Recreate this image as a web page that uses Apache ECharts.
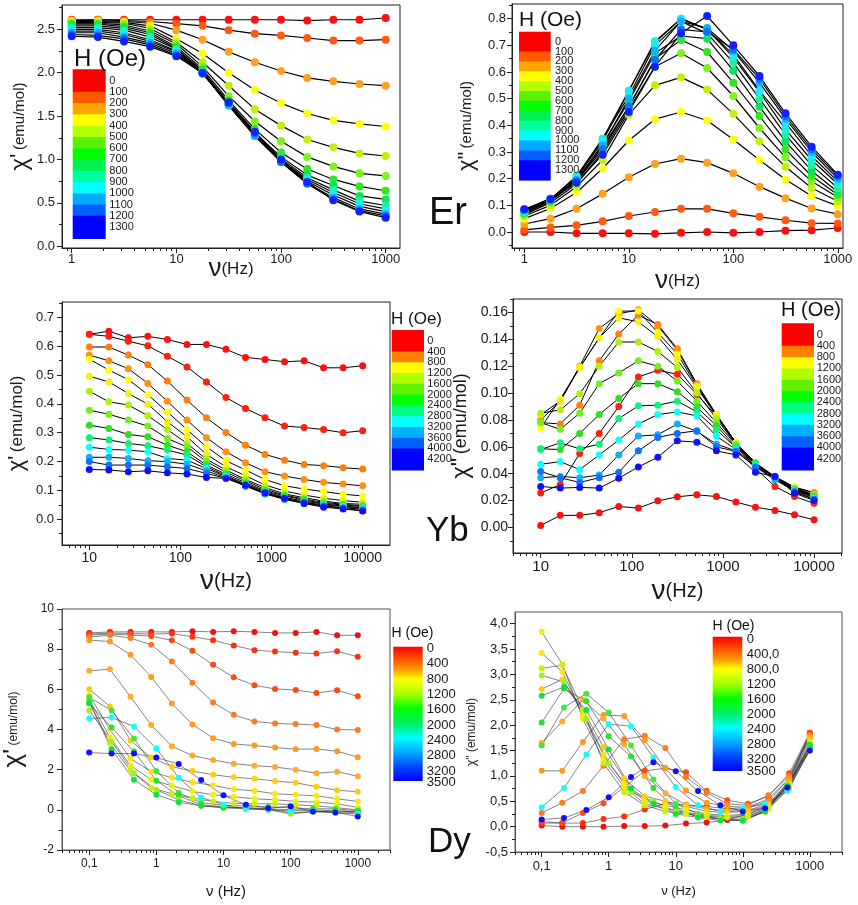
<!DOCTYPE html>
<html>
<head>
<meta charset="utf-8">
<script src="https://cdn.jsdelivr.net/npm/echarts@6/dist/echarts.min.js"></script>
<style>
  html, body { margin: 0; padding: 0; background: #fff; }
  #chart { width: 858px; height: 905px; }
</style>
</head>
<body>
<div id="chart"></div>
<script>
// ---------------- Er: ac susceptibility vs frequency ----------------
const ER_FREQ = [1, 1.78, 3.16, 5.62, 10, 17.8, 31.6, 56.2, 100, 178, 316, 562, 1000];
const ER_FIELDS = ['0','100','200','300','400','500','600','700','800','900','1000','1100','1200','1300'];
const ER_COLORS = ['#ff1010','#ff5a10','#ffa020','#ffff10','#c0f010','#80f020','#30e820','#10e060',
                   '#20f0a0','#20f0d0','#20e8ff','#10b0ff','#1070ff','#1020ff'];
const ER_CHI1 = [
  [2.61,2.61,2.61,2.61,2.61,2.61,2.61,2.61,2.61,2.60,2.61,2.61,2.63],
  [2.60,2.61,2.60,2.59,2.565,2.54,2.49,2.45,2.43,2.40,2.37,2.37,2.38],
  [2.60,2.60,2.59,2.57,2.49,2.38,2.24,2.12,2.02,1.94,1.90,1.87,1.85],
  [2.59,2.59,2.58,2.54,2.39,2.22,2.00,1.80,1.65,1.53,1.45,1.41,1.38],
  [2.58,2.58,2.57,2.51,2.35,2.12,1.85,1.58,1.39,1.23,1.14,1.07,1.04],
  [2.57,2.57,2.55,2.48,2.33,2.07,1.73,1.44,1.21,1.03,0.92,0.84,0.81],
  [2.56,2.56,2.53,2.46,2.30,2.04,1.68,1.35,1.08,0.89,0.77,0.69,0.64],
  [2.54,2.54,2.51,2.44,2.28,2.02,1.65,1.31,1.03,0.82,0.70,0.58,0.54],
  [2.52,2.52,2.49,2.41,2.27,2.01,1.63,1.29,1.01,0.79,0.65,0.52,0.47],
  [2.50,2.50,2.46,2.38,2.25,2.00,1.62,1.28,0.99,0.77,0.62,0.49,0.43],
  [2.48,2.48,2.44,2.36,2.24,2.00,1.62,1.27,0.98,0.75,0.59,0.46,0.40],
  [2.46,2.46,2.41,2.34,2.22,1.99,1.63,1.27,0.97,0.73,0.56,0.43,0.37],
  [2.44,2.43,2.39,2.32,2.20,1.99,1.65,1.30,0.97,0.72,0.54,0.41,0.35],
  [2.42,2.41,2.36,2.30,2.19,2.00,1.66,1.32,1.00,0.74,0.53,0.40,0.33]
];
const ER_CHI2 = [
  [0.000,0.000,-0.005,-0.005,-0.005,-0.007,-0.003,0.000,-0.003,0.000,0.005,0.007,0.015],
  [0.008,0.017,0.025,0.040,0.060,0.075,0.087,0.087,0.070,0.057,0.044,0.033,0.032],
  [0.030,0.050,0.087,0.143,0.205,0.255,0.275,0.260,0.220,0.170,0.127,0.088,0.067],
  [0.050,0.088,0.148,0.238,0.343,0.423,0.450,0.418,0.347,0.270,0.197,0.135,0.098],
  [0.060,0.100,0.170,0.270,0.440,0.550,0.580,0.534,0.443,0.340,0.245,0.165,0.115],
  [0.065,0.110,0.180,0.300,0.460,0.620,0.670,0.615,0.510,0.390,0.280,0.190,0.130],
  [0.070,0.115,0.190,0.320,0.470,0.650,0.720,0.675,0.560,0.435,0.310,0.210,0.140],
  [0.072,0.118,0.195,0.330,0.490,0.670,0.735,0.725,0.605,0.470,0.340,0.230,0.150],
  [0.075,0.120,0.200,0.350,0.510,0.700,0.790,0.745,0.635,0.500,0.365,0.250,0.165],
  [0.078,0.122,0.210,0.350,0.530,0.715,0.800,0.760,0.655,0.525,0.385,0.270,0.180],
  [0.080,0.124,0.205,0.340,0.530,0.710,0.800,0.760,0.665,0.530,0.410,0.285,0.190],
  [0.082,0.125,0.195,0.325,0.500,0.680,0.790,0.765,0.680,0.560,0.425,0.300,0.200],
  [0.084,0.125,0.190,0.310,0.470,0.645,0.760,0.750,0.685,0.575,0.435,0.310,0.210],
  [0.085,0.122,0.185,0.290,0.450,0.620,0.745,0.810,0.700,0.585,0.445,0.320,0.215]
];
const ER_LEGEND_LABELS = ['0','100','200','300','400','500','600','700','800','900','1000','1100','1200','1300'];
const ER_LEGEND_COLORS = ['#ff0000','#ff5a00','#ffa500','#ffff00','#b4ff00','#5af000','#00ff00',
                          '#00f050','#00ffa0','#00ffff','#00aaff','#0060ff','#0000ff'];
const ER_X_TICKS = [1, 10, 100, 1000];
const ER1_Y_TICKS = [0, 0.5, 1.0, 1.5, 2.0, 2.5];
const ER2_Y_TICKS = [0, 0.1, 0.2, 0.3, 0.4, 0.5, 0.6, 0.7, 0.8];

// ---------------- Yb ----------------
const YB_FREQ = [10, 16.4, 26.8, 43.9, 71.9, 118, 193, 316, 518, 848, 1389, 2276, 3728, 6105, 10000];
const YB_COLORS = ['#ff1010','#ff2010','#ff8010','#ff9010','#ffff10','#f4f010','#b0f010','#70f020',
                   '#30e020','#10f080','#10ffff','#10b0ff','#1070ff','#1010ff'];
const YB_CHI1 = [
  [0.641,0.652,0.629,0.634,0.623,0.606,0.606,0.589,0.561,0.554,0.546,0.549,0.525,0.525,0.532],
  [0.641,0.634,0.617,0.601,0.565,0.528,0.476,0.422,0.384,0.352,0.323,0.318,0.311,0.300,0.307],
  [0.597,0.597,0.569,0.536,0.479,0.413,0.352,0.301,0.257,0.225,0.205,0.190,0.186,0.179,0.174],
  [0.569,0.549,0.522,0.471,0.409,0.344,0.283,0.234,0.196,0.165,0.150,0.138,0.128,0.122,0.116],
  [0.555,0.517,0.484,0.432,0.372,0.311,0.251,0.203,0.171,0.138,0.116,0.105,0.096,0.087,0.081],
  [0.496,0.476,0.436,0.399,0.338,0.286,0.225,0.182,0.151,0.119,0.098,0.084,0.073,0.065,0.059],
  [0.444,0.407,0.396,0.359,0.311,0.263,0.208,0.171,0.138,0.110,0.088,0.075,0.063,0.055,0.052],
  [0.378,0.364,0.344,0.323,0.280,0.251,0.200,0.163,0.133,0.104,0.084,0.070,0.059,0.052,0.047],
  [0.326,0.315,0.294,0.286,0.257,0.234,0.188,0.156,0.127,0.099,0.081,0.067,0.055,0.050,0.044],
  [0.283,0.275,0.263,0.255,0.240,0.223,0.182,0.151,0.122,0.096,0.076,0.063,0.053,0.046,0.040],
  [0.250,0.242,0.240,0.234,0.211,0.205,0.176,0.148,0.119,0.090,0.070,0.059,0.050,0.044,0.038],
  [0.215,0.215,0.211,0.203,0.200,0.191,0.168,0.144,0.115,0.088,0.069,0.055,0.046,0.040,0.035],
  [0.200,0.188,0.188,0.188,0.182,0.176,0.159,0.142,0.116,0.090,0.073,0.059,0.046,0.038,0.030],
  [0.173,0.171,0.165,0.168,0.161,0.157,0.145,0.142,0.119,0.092,0.073,0.055,0.042,0.036,0.029]
];
const YB_CHI2 = [
  [0.0015,0.009,0.009,0.011,0.0156,0.0144,0.0198,0.0228,0.0243,0.023,0.0189,0.0151,0.0127,0.0094,0.0057],
  [0.0256,0.032,0.055,0.070,0.090,0.112,0.117,0.114,0.099,0.083,0.062,0.044,0.0305,0.023,0.018],
  [0.078,0.077,0.091,0.124,0.144,0.158,0.151,0.133,0.107,0.084,0.063,0.048,0.037,0.030,0.026],
  [0.080,0.094,0.120,0.148,0.159,0.162,0.150,0.132,0.106,0.084,0.063,0.047,0.037,0.030,0.0255],
  [0.074,0.0955,0.119,0.141,0.161,0.161,0.145,0.129,0.105,0.084,0.063,0.048,0.038,0.030,0.024],
  [0.084,0.094,0.119,0.141,0.156,0.153,0.142,0.125,0.104,0.083,0.063,0.048,0.037,0.029,0.024],
  [0.085,0.0875,0.0995,0.120,0.138,0.138,0.131,0.119,0.100,0.081,0.062,0.048,0.037,0.029,0.024],
  [0.078,0.073,0.085,0.107,0.115,0.124,0.120,0.109,0.094,0.078,0.0615,0.047,0.037,0.0285,0.0236],
  [0.0585,0.058,0.070,0.084,0.096,0.107,0.107,0.101,0.0895,0.0757,0.060,0.048,0.037,0.0285,0.023],
  [0.058,0.063,0.0585,0.062,0.081,0.0905,0.091,0.094,0.086,0.0727,0.0595,0.047,0.037,0.028,0.0226],
  [0.047,0.049,0.043,0.054,0.065,0.077,0.084,0.086,0.083,0.068,0.058,0.046,0.036,0.0275,0.022],
  [0.037,0.038,0.037,0.039,0.054,0.068,0.069,0.077,0.0715,0.062,0.057,0.045,0.0355,0.027,0.021],
  [0.0417,0.037,0.0335,0.037,0.041,0.057,0.067,0.070,0.072,0.060,0.0566,0.045,0.038,0.0263,0.0208],
  [0.0305,0.0293,0.0298,0.0293,0.0367,0.045,0.0523,0.0645,0.0635,0.057,0.054,0.041,0.038,0.0255,0.020]
];
const YB_LEGEND_LABELS = ['0','400','800','1200','1600','2000','2400','2800','3200','3600','4000','4200'];
const YB_LEGEND_COLORS = ['#ff0000','#ff8000','#ffff00','#b0ff00','#60f000','#00ff00','#00ff80',
                          '#00ffff','#00b0ff','#0060ff','#0000ff'];
const YB_X_TICKS = [10, 100, 1000, 10000];
const YB1_Y_TICKS = [0, 0.1, 0.2, 0.3, 0.4, 0.5, 0.6, 0.7];
const YB2_Y_TICKS = [0, 0.02, 0.04, 0.06, 0.08, 0.10, 0.12, 0.14, 0.16];

// ---------------- Dy (two frequency grids were used) ----------------
const DY_FREQ_A = [0.1, 0.203, 0.412, 0.836, 1.70, 3.45, 7.0, 14.2, 28.9, 58.6, 119, 242, 492, 1000];
const DY_FREQ_B = [0.1, 0.215, 0.464, 1, 2.15, 4.64, 10, 21.5, 46.4, 100, 215, 464, 1000];
const DY_GRID = ['A','A','A','A','A','A','A','A','A','A','B','B','B','B','B','B'];
const DY_COLORS = ['#f01010','#ff3010','#ff4a10','#ff7a20','#ff9a20','#ffaa28','#ffcc10','#ffe410',
                   '#f0f010','#c8f010','#40e840','#30e030','#a0f020','#10e040','#10ffff','#1010ff'];
const DY_CHI1 = [
  [8.81,8.86,8.86,8.86,8.86,8.89,8.86,8.89,8.86,8.81,8.81,8.86,8.69,8.69],
  [8.75,8.80,8.78,8.75,8.78,8.62,8.45,8.18,7.95,7.88,7.82,7.78,7.90,7.62],
  [8.70,8.75,8.70,8.65,8.44,7.92,7.22,6.60,6.20,6.02,5.97,5.82,5.95,5.65],
  [8.60,8.70,8.55,8.22,7.38,6.33,5.35,4.73,4.40,4.30,4.27,4.22,4.00,3.98],
  [8.45,8.38,7.72,6.62,5.30,4.25,3.57,3.28,3.20,3.10,3.02,3.03,2.92,2.62],
  [6.92,7.00,5.63,4.22,3.17,2.70,2.48,2.30,2.20,2.13,2.00,1.82,1.90,1.67],
  [6.00,5.15,3.45,2.60,2.15,1.93,1.75,1.62,1.55,1.43,1.35,1.15,0.98,0.90],
  [5.70,4.00,2.55,1.90,1.60,1.37,1.22,1.02,0.95,0.80,0.75,0.70,0.55,0.42],
  [5.50,3.60,2.20,1.50,1.20,0.92,0.75,0.65,0.55,0.50,0.42,0.38,0.30,0.12],
  [5.40,3.30,1.95,1.10,0.80,0.58,0.42,0.32,0.30,0.30,0.25,0.20,0.10,0.00],
  [5.60,4.95,3.55,1.93,0.85,0.35,0.22,0.20,0.15,0.10,0.05,0.05,-0.05],
  [5.30,4.10,2.90,1.45,0.70,0.25,0.15,0.10,0.05,-0.15,-0.10,-0.05,-0.10],
  [4.95,3.40,1.82,1.00,0.50,0.20,0.10,0.05,0.00,-0.20,-0.10,-0.10,-0.15],
  [5.35,3.00,1.50,0.75,0.38,0.20,0.12,0.10,0.05,0.00,0.00,-0.05,-0.10],
  [4.55,4.60,4.15,3.05,1.60,0.62,0.25,0.05,0.00,-0.05,-0.05,-0.15,-0.20],
  [2.85,2.80,2.80,2.60,2.28,1.48,0.72,0.25,0.08,0.18,-0.08,-0.13,-0.33]
];
const DY_CHI2 = [
  [0.02,0.00,0.00,0.00,0.01,0.01,0.02,0.06,0.08,0.13,0.25,0.42,0.90,1.82],
  [0.07,0.07,0.07,0.15,0.20,0.34,0.45,0.43,0.40,0.35,0.38,0.55,0.95,1.85],
  [0.10,0.07,0.27,0.46,0.78,1.10,1.15,1.07,0.70,0.52,0.45,0.60,1.05,1.85],
  [0.27,0.47,0.70,1.20,1.72,1.79,1.55,0.98,0.67,0.45,0.42,0.62,1.00,1.80],
  [1.10,1.10,1.67,2.20,2.18,1.70,1.15,0.71,0.47,0.40,0.38,0.50,0.95,1.78],
  [1.65,2.07,2.50,2.13,1.62,1.00,0.66,0.43,0.35,0.30,0.32,0.45,0.90,1.75],
  [2.71,2.90,2.30,1.57,0.95,0.60,0.50,0.40,0.30,0.28,0.30,0.42,0.85,1.72],
  [3.42,3.05,2.20,1.42,0.85,0.50,0.42,0.33,0.25,0.22,0.25,0.38,0.80,1.65],
  [3.84,3.20,2.12,1.32,0.78,0.45,0.35,0.28,0.22,0.20,0.22,0.36,0.78,1.60],
  [3.12,3.18,2.30,1.25,0.68,0.42,0.30,0.25,0.20,0.18,0.20,0.35,0.75,1.55],
  [1.60,2.35,2.62,2.25,1.60,0.93,0.45,0.25,0.15,0.12,0.30,0.80,1.60],
  [2.05,2.72,2.47,1.78,1.38,0.76,0.35,0.20,0.15,0.12,0.30,0.82,1.62],
  [2.98,2.85,2.12,1.25,0.68,0.50,0.30,0.20,0.15,0.15,0.30,0.85,1.50],
  [2.58,2.75,2.30,1.52,0.75,0.45,0.25,0.18,0.12,0.12,0.30,0.80,1.55],
  [0.38,0.76,1.42,2.02,1.98,1.36,0.78,0.42,0.30,0.35,0.45,0.70,1.50],
  [0.14,0.17,0.33,0.58,0.98,1.27,1.09,0.70,0.42,0.30,0.36,0.77,1.50]
];
const DY1_LEGEND_LABELS = ['0','400','800','1200','1600','2000','2400','2800','3200','3500'];
const DY2_LEGEND_LABELS = ['0','400,0','800,0','1200','1600','2000','2400','2800','3200','3500'];
const DY_LEGEND_FIELDS = [0, 400, 800, 1200, 1600, 2000, 2400, 2800, 3200, 3500];
const DY_X_TICKS = [0.1, 1, 10, 100, 1000];
const DY_X_TICK_TEXT = ['0,1', '1', '10', '100', '1000'];
const DY1_Y_TICKS = [-2, 0, 2, 4, 6, 8, 10];
const DY2_Y_TICKS = [-0.5, 0, 0.5, 1.0, 1.5, 2.0, 2.5, 3.0, 3.5, 4.0];

// ---------------- helpers ----------------
const FONT = '"Liberation Sans", Arial, sans-serif';
const INK = '#1a1a1a';
const lg = Math.log10;

function logMinor(lo, hi) {
  const out = [];
  for (let d = Math.floor(lo) - 1; d <= Math.ceil(hi); d++) {
    for (let k = 2; k <= 9; k++) {
      const v = d + lg(k);
      if (v >= lo && v <= hi) out.push(v);
    }
  }
  return out;
}
function linMinor(ticks, lo, hi) {
  const step = ticks[1] - ticks[0], out = [];
  for (let i = -2; i <= ticks.length + 2; i++) {
    const v = ticks[0] + (i + 0.5) * step;
    if (v >= lo - 1e-9 && v <= hi + 1e-9) out.push(v);
  }
  return out;
}
function nearest(arr, v) {
  let bi = 0;
  arr.forEach((a, i) => { if (Math.abs(a - v) < Math.abs(arr[bi] - v)) bi = i; });
  return bi;
}

const grids = [], xAxes = [], yAxes = [], series = [], graphics = [];

function addPanel(p) {
  const gi = grids.length;
  grids.push({
    left: p.box[0], top: p.box[1], width: p.box[2], height: p.box[3],
    show: true, borderColor: p.frame, borderWidth: 1, backgroundColor: 'transparent',
    containLabel: false, outerBoundsMode: 'none'
  });
  const xMajor = p.xTicks.map(lg);
  const xi = xAxes.length;
  xAxes.push({
    type: 'value', gridIndex: gi, min: p.x[0], max: p.x[1], position: 'bottom',
    axisLine: { show: true, onZero: false, lineStyle: { color: p.frame, width: 1 } },
    axisTick: { show: true, customValues: xMajor, length: 5, lineStyle: { color: '#222' } },
    axisLabel: {
      customValues: xMajor, margin: p.xLabelMargin, fontSize: p.xFont, color: INK, fontFamily: FONT,
      formatter: v => p.xText[nearest(xMajor, v)]
    },
    splitLine: { show: false },
    name: p.xName, nameLocation: 'middle', nameGap: p.xNameGap, nameMoveOverlap: false,
    nameTextStyle: { color: INK, fontFamily: FONT, rich: p.xRich }
  });
  // minor decade ticks
  xAxes.push({
    type: 'value', gridIndex: gi, min: p.x[0], max: p.x[1], position: 'bottom',
    axisLine: { show: false, onZero: false }, axisLabel: { show: false }, splitLine: { show: false },
    axisTick: { show: true, customValues: logMinor(p.x[0], p.x[1]), length: 3, lineStyle: { color: '#222' } }
  });
  const yi = yAxes.length;
  yAxes.push({
    type: 'value', gridIndex: gi, min: p.y[0], max: p.y[1], position: 'left',
    axisLine: { show: true, onZero: false, lineStyle: { color: p.frame, width: 1 } },
    axisTick: { show: true, customValues: p.yTicks, length: 5, lineStyle: { color: '#222' } },
    axisLabel: {
      customValues: p.yTicks, margin: p.yLabelMargin, fontSize: p.yFont, color: INK, fontFamily: FONT,
      formatter: v => p.yFmt(p.yTicks[nearest(p.yTicks, v)])
    },
    splitLine: { show: false },
    name: p.yName, nameLocation: 'middle', nameGap: p.yNameGap, nameMoveOverlap: false,
    nameTextStyle: { color: INK, fontFamily: FONT, rich: p.yRich }
  });
  // minor value ticks
  yAxes.push({
    type: 'value', gridIndex: gi, min: p.y[0], max: p.y[1], position: 'left',
    axisLine: { show: false, onZero: false }, axisLabel: { show: false }, splitLine: { show: false },
    axisTick: { show: true, customValues: linMinor(p.yTicks, p.y[0], p.y[1]), length: 3, lineStyle: { color: '#222' } }
  });
  p.curves.forEach(c => {
    series.push({
      type: 'line', xAxisIndex: xi, yAxisIndex: yi,
      data: c.freq.map((f, i) => [lg(f), c.vals[i]]),
      symbol: 'circle', symbolSize: p.dot, showSymbol: true,
      itemStyle: { color: c.color },
      lineStyle: { color: p.lineColor, width: p.lineWidth },
      emphasis: { disabled: true }, silent: true, clip: false, z: 2
    });
  });
}

function blockLegend(x, y, w, h, colors, labels, labelX, fontSize) {
  const n = labels.length, step = h / (n + 1);
  const edges = [y];
  for (let k = 1; k <= n - 2; k++) edges.push(y + step * (k + 1));
  edges.push(y + h);
  colors.forEach((c, i) => graphics.push({
    type: 'rect', shape: { x: x, y: edges[i], width: w, height: edges[i + 1] - edges[i] + 0.6 },
    style: { fill: c }, z: 50
  }));
  labels.forEach((t, i) => graphics.push({
    type: 'text', x: labelX, y: y + step * (i + 1), z: 51,
    style: { text: t, font: fontSize + 'px ' + FONT, fill: INK, textVerticalAlign: 'middle', verticalAlign: 'middle' }
  }));
}
function gradientLegend(x, y, w, h, labels, fields, labelTop, labelBottom, labelX, fontSize) {
  graphics.push({
    type: 'rect', shape: { x: x, y: y, width: w, height: h }, z: 50,
    style: { fill: { type: 'linear', x: 0, y: 0, x2: 0, y2: 1, colorStops: [
      { offset: 0, color: '#ff0000' }, { offset: 0.1, color: '#ff5a00' }, { offset: 0.17, color: '#ff9a00' },
      { offset: 0.24, color: '#ffff00' }, { offset: 0.35, color: '#a8ff00' }, { offset: 0.46, color: '#00ff00' },
      { offset: 0.57, color: '#00ee60' }, { offset: 0.68, color: '#00ffff' }, { offset: 0.8, color: '#00a0ff' },
      { offset: 0.9, color: '#0040ff' }, { offset: 1, color: '#0000ff' } ] } }
  });
  const fmax = fields[fields.length - 1];
  labels.forEach((t, i) => graphics.push({
    type: 'text', x: labelX, y: labelTop + (labelBottom - labelTop) * fields[i] / fmax, z: 51,
    style: { text: t, font: fontSize + 'px ' + FONT, fill: INK, textVerticalAlign: 'middle', verticalAlign: 'middle' }
  }));
}
function caption(text, x, y, size) {
  graphics.push({
    type: 'text', x: x, y: y, z: 51,
    style: { text: text, font: size + 'px ' + FONT, fill: '#111', textVerticalAlign: 'middle', verticalAlign: 'middle' }
  });
}

const fmt = d => v => v.toFixed(d);
const fmtComma = d => v => v.toFixed(d).replace('.', ',');
const nuRich = (a, b) => ({ a: { fontSize: a, fontFamily: FONT, color: INK }, b: { fontSize: b, fontFamily: FONT, color: INK } });

// ---------------- panels ----------------
addPanel({
  box: [62, 5, 338, 243], x: [-0.093, 3.137], y: [-0.02, 2.78], frame: '#222',
  xTicks: ER_X_TICKS, xText: ER_X_TICKS.map(String), xFont: 13, xLabelMargin: 5,
  yTicks: ER1_Y_TICKS, yFmt: fmt(1), yFont: 13, yLabelMargin: 7,
  xName: '{a|ν}{b|(Hz)}', xNameGap: 8, xRich: nuRich(26, 17),
  yName: "{a|χ'} {b|(emu/mol)}", yNameGap: 30, yRich: nuRich(24, 15),
  dot: 8, lineColor: '#000', lineWidth: 1.2,
  curves: ER_CHI1.map((v, i) => ({ freq: ER_FREQ, vals: v, color: ER_COLORS[i] }))
});
addPanel({
  box: [512, 4, 331, 244], x: [-0.118, 3.05], y: [-0.06, 0.855], frame: '#222',
  xTicks: ER_X_TICKS, xText: ER_X_TICKS.map(String), xFont: 13, xLabelMargin: 5,
  yTicks: ER2_Y_TICKS, yFmt: fmt(1), yFont: 13, yLabelMargin: 6,
  xName: '{a|ν}{b|(Hz)}', xNameGap: 20, xRich: nuRich(26, 17),
  yName: '{a|χ"} {b|(emu/mol)}', yNameGap: 34, yRich: nuRich(22, 15),
  dot: 8, lineColor: '#000', lineWidth: 1.2,
  curves: ER_CHI2.map((v, i) => ({ freq: ER_FREQ, vals: v, color: ER_COLORS[i] }))
});
addPanel({
  box: [62, 302, 328, 243], x: [0.70, 4.30], y: [-0.089, 0.753], frame: '#222',
  xTicks: YB_X_TICKS, xText: YB_X_TICKS.map(String), xFont: 14, xLabelMargin: 6,
  yTicks: YB1_Y_TICKS, yFmt: fmt(1), yFont: 13, yLabelMargin: 8,
  xName: '{a|ν}{b|(Hz)}', xNameGap: 22, xRich: nuRich(28, 20),
  yName: "{a|χ'} {b|(emu/mol)}", yNameGap: 34, yRich: nuRich(22, 17),
  dot: 7, lineColor: '#000', lineWidth: 1,
  curves: YB_CHI1.map((v, i) => ({ freq: YB_FREQ, vals: v, color: YB_COLORS[i] }))
});
addPanel({
  box: [513, 299, 329, 254], x: [0.696, 4.307], y: [-0.019, 0.170], frame: '#222',
  xTicks: YB_X_TICKS, xText: YB_X_TICKS.map(String), xFont: 15, xLabelMargin: 6,
  yTicks: YB2_Y_TICKS, yFmt: fmt(2), yFont: 14, yLabelMargin: 5,
  xName: '{a|ν}{b|(Hz)}', xNameGap: 24, xRich: nuRich(28, 20),
  yName: '{a|χ"} {b|(emu/mol)}', yNameGap: 40, yRich: nuRich(24, 18),
  dot: 7, lineColor: '#000', lineWidth: 1,
  curves: YB_CHI2.map((v, i) => ({ freq: YB_FREQ, vals: v, color: YB_COLORS[i] }))
});
addPanel({
  box: [62, 609, 328, 241], x: [-1.406, 3.48], y: [-2, 10], frame: '#555',
  xTicks: DY_X_TICKS, xText: DY_X_TICK_TEXT, xFont: 12, xLabelMargin: 8,
  yTicks: DY1_Y_TICKS, yFmt: v => String(v), yFont: 12, yLabelMargin: 8,
  xName: '{b|ν (Hz)}', xNameGap: 34, xRich: nuRich(15, 15),
  yName: "{a|χ'} {b|(emu/mol)}", yNameGap: 35, yRich: nuRich(26, 12),
  dot: 6, lineColor: '#333', lineWidth: 0.6,
  curves: DY_CHI1.map((v, i) => ({ freq: DY_GRID[i] === 'A' ? DY_FREQ_A : DY_FREQ_B, vals: v, color: DY_COLORS[i] }))
});
addPanel({
  box: [515, 612, 327, 240], x: [-1.398, 3.48], y: [-0.5, 4.23], frame: '#555',
  xTicks: DY_X_TICKS, xText: DY_X_TICK_TEXT, xFont: 13, xLabelMargin: 8,
  yTicks: DY2_Y_TICKS, yFmt: fmtComma(1), yFont: 13, yLabelMargin: 7,
  xName: '{b|ν (Hz)}', xNameGap: 33, xRich: nuRich(13, 13),
  yName: '{b|χ" (emu/mol)}', yNameGap: 37, yRich: nuRich(12, 12),
  dot: 6, lineColor: '#333', lineWidth: 0.6,
  curves: DY_CHI2.map((v, i) => ({ freq: DY_GRID[i] === 'A' ? DY_FREQ_A : DY_FREQ_B, vals: v, color: DY_COLORS[i] }))
});

// ---------------- field legends and element captions ----------------
caption('H (Oe)', 74, 59, 24);
blockLegend(72.7, 69.3, 33, 169, ER_LEGEND_COLORS, ER_LEGEND_LABELS, 109.3, 11);
caption('H (Oe)', 519, 20.5, 21);
blockLegend(519, 31.7, 31.7, 148.3, ER_LEGEND_COLORS, ER_LEGEND_LABELS, 555, 11);
caption('H (Oe)', 391, 319, 17);
blockLegend(391.7, 330, 32.3, 140, YB_LEGEND_COLORS, YB_LEGEND_LABELS, 427.3, 11);
caption('H (Oe)', 781, 310.5, 20);
blockLegend(781.7, 323.3, 32.3, 146.7, YB_LEGEND_COLORS, YB_LEGEND_LABELS, 816.7, 11);
caption('H (Oe)', 391.5, 633.5, 14);
gradientLegend(393.3, 646.7, 29.4, 134.3, DY1_LEGEND_LABELS, DY_LEGEND_FIELDS, 648.3, 782.7, 426.7, 13);
caption('H (Oe)', 712.5, 626, 14);
gradientLegend(712.7, 636.7, 29.6, 134.3, DY2_LEGEND_LABELS, DY_LEGEND_FIELDS, 639, 771, 746.7, 13);

caption('Er', 429, 214, 38);
caption('Yb', 426, 531, 35);
caption('Dy', 428, 842, 35);

const chart = echarts.init(document.getElementById('chart'), null, { renderer: 'canvas' });
chart.setOption({
  animation: false,
  backgroundColor: '#ffffff',
  textStyle: { fontFamily: FONT },
  grid: grids, xAxis: xAxes, yAxis: yAxes, series: series,
  graphic: { elements: graphics }
});
</script>
</body>
</html>
